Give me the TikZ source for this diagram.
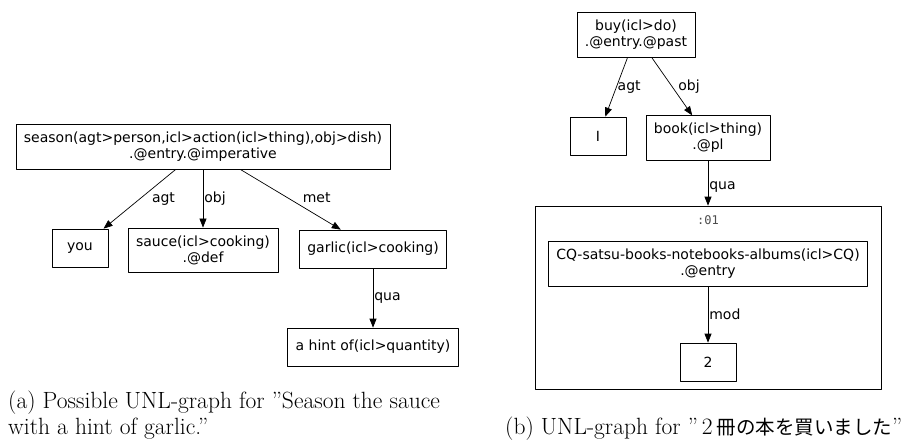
\documentclass[tikz,border=0pt]{standalone}
\usepackage{fontspec}
\setsansfont{DejaVu Sans}
\newfontfamily\unlmono{DejaVu Sans Mono}
\newfontfamily\cjkfont{Noto Sans CJK JP}
\usetikzlibrary{arrows.meta}

\begin{document}
\begin{tikzpicture}[x=1pt,y=-1pt,line cap=round,line join=round,>={Triangle[length=9pt,width=7pt]},
  unl/.style={draw,line width=0.7pt,font=\sffamily\fontsize{14}{16}\selectfont,align=center,minimum width=56pt,minimum height=38pt,inner xsep=8pt,inner ysep=7.5pt},
  rel/.style={font=\sffamily\fontsize{14}{16}\selectfont,inner sep=1pt},
  unlarrow/.style={->,line width=0.7pt},
  capt/.style={font=\fontsize{23.5}{26}\selectfont,inner sep=0pt,align=left}]
\useasboundingbox (0,0) rectangle (910,444);
% (a) season the sauce
\node[unl] (season) at (203,147) {season(agt>person,icl>action(icl>thing),obj>dish)\\.@entry.@imperative};
\node[unl] (you) at (80,248) {you};
\node[unl] (sauce) at (203,250) {sauce(icl>cooking)\\.@def};
\node[unl] (garlic) at (373,249) {garlic(icl>cooking)};
\node[unl] (hint) at (373,347) {a hint of(icl>quantity)};
\draw[unlarrow] (season) -- (you) node[rel,midway,xshift=24pt] {agt};
\draw[unlarrow] (season) -- (sauce) node[rel,midway,anchor=west] {obj};
\draw[unlarrow] (season) -- (garlic) node[rel,midway,xshift=26pt,yshift=2pt] {met};
\draw[unlarrow] (garlic) -- (hint) node[rel,midway,anchor=west] {qua};
\node[capt,anchor=north west] (capa) at (8,390.5) {(a) Possible UNL-graph for ”Season the sauce\\with a hint of garlic.”};
% (b) buy a book
\node[unl] (buy) at (636,35) {buy(icl>do)\\.@entry.@past};
\node[unl] (me) at (598,136) {I};
\node[unl] (book) at (708,138) {book(icl>thing)\\.@pl};
\node[draw,line width=0.7pt,minimum width=346pt,minimum height=183pt] (scope01) at (708,297.5) {};
\node[font=\unlmono\fontsize{12}{14}\selectfont,text=black!70] (scopelbl) at (708,220) {:01};
\node[unl] (cq) at (708,264) {CQ-satsu-books-notebooks-albums(icl>CQ)\\.@entry};
\node[unl] (two) at (708,362) {2};
\draw[unlarrow] (buy) -- (me) node[rel,midway,anchor=west] {agt};
\draw[unlarrow] (buy) -- (book) node[rel,midway,anchor=west,xshift=5pt] {obj};
\draw[unlarrow] (book) -- (scope01) node[rel,midway,anchor=west,yshift=-4pt] {qua};
\draw[unlarrow] (cq) -- (two) node[rel,midway,anchor=west] {mod};
\node[capt,anchor=base west] (capb) at (505,434) {(b) UNL-graph for ”\,2\,{\cjkfont\fontsize{19.5}{26}\selectfont 冊の本を買いました}”};
\end{tikzpicture}
\end{document}
